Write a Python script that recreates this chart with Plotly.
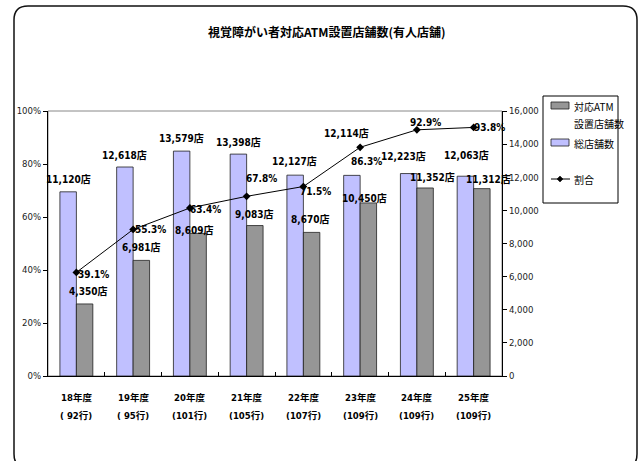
import plotly.graph_objects as go

# ---- data ----
years = ["18年度", "19年度", "20年度", "21年度", "22年度", "23年度", "24年度", "25年度"]
banks = ["( 92行)", "( 95行)", "(101行)", "(105行)", "(107行)", "(109行)", "(109行)", "(109行)"]
total_branches = [11120, 12618, 13579, 13398, 12127, 12114, 12223, 12063]
atm_branches = [4350, 6981, 8609, 9083, 8670, 10450, 11352, 11312]
ratio_pct = [39.1, 55.3, 63.4, 67.8, 71.5, 86.3, 92.9, 93.8]

# ---- layout constants (pixels) ----
W, H = 639, 461
L, R, T, B = 48, 502, 111, 376
PW, PH = R - L, B - T

def px(x):
    return (x - L) / PW

def py(y):
    return (B - y) / PH

LBL = "Liberation Sans Narrow, Arial Narrow, DejaVu Sans Condensed, Noto Sans CJK JP, sans-serif"
AX = "Liberation Sans Narrow, Arial Narrow, DejaVu Sans Condensed, sans-serif"

# label nudges (pixels) relative to the mark they describe
tot_dx = [0, 0, 0, 0, -1, -5, -5, 1]
tot_dy = [-12, -12, -13, -12, -14, -42, -17, -21]
atm_dx = [3, 0, -4, -1, -2, -4, 7, 7]
atm_dy = [-12, -13, -3, -11, -13, -4, -10, -9]
pct_dx = [17, 17, 16, 15, 12, 6, 9, 16]
pct_dy = [2, 0, 2, -18, 5, 14, -7, 0]

BLUE = "#C0C0FF"
GRAY = "#969696"
BW = 0.29
xs = list(range(len(years)))

fig = go.Figure()
fig.add_trace(go.Bar(
    x=xs, y=total_branches, name="総店舗数", width=BW, offset=-BW,
    marker=dict(color=BLUE, line=dict(color="#202020", width=0.8)),
    yaxis="y", showlegend=False,
))
fig.add_trace(go.Bar(
    x=xs, y=atm_branches, name="対応ATM設置店舗数", width=BW, offset=0,
    marker=dict(color=GRAY, line=dict(color="#202020", width=0.8)),
    yaxis="y", showlegend=False,
))
fig.add_trace(go.Scatter(
    x=xs, y=[v / 100 for v in ratio_pct], name="割合", mode="lines+markers",
    line=dict(color="black", width=1),
    marker=dict(symbol="diamond", size=6, color="black"),
    yaxis="y2", showlegend=False,
))

VAL_FONT = dict(family=LBL, size=10, color="black")
CAT_FONT = dict(family=LBL, size=9.5, color="black")

ann = []
for i in xs:
    ann.append(dict(x=i - BW / 2, y=total_branches[i], xref="x", yref="y",
                    text=f"<b>{total_branches[i]:,}店</b>", showarrow=False,
                    xshift=tot_dx[i], yshift=-tot_dy[i], font=VAL_FONT))
    ann.append(dict(x=i + BW / 2, y=atm_branches[i], xref="x", yref="y",
                    text=f"<b>{atm_branches[i]:,}店</b>", showarrow=False,
                    xshift=atm_dx[i], yshift=-atm_dy[i], font=VAL_FONT))
    ann.append(dict(x=i, y=ratio_pct[i] / 100, xref="x", yref="y2",
                    text=f"<b>{ratio_pct[i]:.1f}%</b>", showarrow=False,
                    xshift=pct_dx[i], yshift=-pct_dy[i], font=VAL_FONT))
    # category labels under the axis
    ann.append(dict(x=i, y=py(397), xref="x", yref="paper", text=f"<b>{years[i]}</b>",
                    showarrow=False, yanchor="middle", font=CAT_FONT))
    ann.append(dict(x=i, y=py(415), xref="x", yref="paper", text=f"<b>{banks[i]}</b>",
                    showarrow=False, yanchor="middle", font=CAT_FONT))

# title
ann.append(dict(x=px(327), y=py(31), xref="paper", yref="paper",
                text="<b>視覚障がい者対応ATM設置店舗数(有人店舗)</b>", showarrow=False,
                xanchor="center", yanchor="middle",
                font=dict(family="Noto Sans CJK JP, sans-serif", size=12, color="black")))

# legend (drawn by hand)
LEG_FONT = dict(family="Noto Sans CJK JP, sans-serif", size=10, color="black")
ann += [
    dict(x=px(572), y=py(106), xref="paper", yref="paper", text="対応ATM", showarrow=False,
         xanchor="left", yanchor="middle", font=LEG_FONT),
    dict(x=px(572), y=py(123), xref="paper", yref="paper", text="設置店舗数", showarrow=False,
         xanchor="left", yanchor="middle", font=LEG_FONT),
    dict(x=px(572), y=py(143), xref="paper", yref="paper", text="総店舗数", showarrow=False,
         xanchor="left", yanchor="middle", font=LEG_FONT),
    dict(x=px(572), y=py(179), xref="paper", yref="paper", text="割合", showarrow=False,
         xanchor="left", yanchor="middle", font=LEG_FONT),
]

def rounded_rect(x0, y0, x1, y1, r):
    X0, X1 = px(x0), px(x1)
    Y0, Y1 = py(y0), py(y1)
    rx, ry = r / PW, r / PH
    return (f"M {X0 + rx} {Y0} L {X1 - rx} {Y0} Q {X1} {Y0} {X1} {Y0 - ry} "
            f"L {X1} {Y1 + ry} Q {X1} {Y1} {X1 - rx} {Y1} "
            f"L {X0 + rx} {Y1} Q {X0} {Y1} {X0} {Y1 + ry} "
            f"L {X0} {Y0 - ry} Q {X0} {Y0} {X0 + rx} {Y0} Z")

shapes = [
    # outer chart frame
    dict(type="path", xref="paper", yref="paper", path=rounded_rect(14, 6, 637, 468, 14),
         line=dict(color="#111111", width=1.5), layer="above"),
    # plot area border
    dict(type="rect", xref="paper", yref="paper", x0=0, x1=1, y0=0, y1=1,
         line=dict(color="#888888", width=1), layer="below"),
    # legend box
    dict(type="rect", xref="paper", yref="paper", x0=px(543), x1=px(618), y0=py(203), y1=py(96),
         line=dict(color="black", width=1), fillcolor="white"),
    dict(type="rect", xref="paper", yref="paper", x0=px(551), x1=px(569), y0=py(109), y1=py(102),
         line=dict(color="#202020", width=0.8), fillcolor=GRAY),
    dict(type="rect", xref="paper", yref="paper", x0=px(551), x1=px(569), y0=py(146), y1=py(139),
         line=dict(color="#202020", width=0.8), fillcolor=BLUE),
    dict(type="line", xref="paper", yref="paper", x0=px(551), x1=px(570), y0=py(179), y1=py(179),
         line=dict(color="black", width=1)),
    dict(type="path", xref="paper", yref="paper",
         path=(f"M {px(560)} {py(176)} L {px(563)} {py(179)} L {px(560)} {py(182)} "
               f"L {px(557)} {py(179)} Z"),
         fillcolor="black", line=dict(color="black", width=0.5)),
]

fig.update_layout(
    width=W, height=H,
    margin=dict(l=L, r=W - R, t=T, b=H - B, pad=0),
    paper_bgcolor="white", plot_bgcolor="white",
    barmode="overlay",
    showlegend=False,
    xaxis=dict(
        range=[-0.5, 7.5], showticklabels=False, showgrid=False, zeroline=False,
        showline=True, linecolor="black", linewidth=1, ticks="",
        minor=dict(tickvals=[0.5, 1.5, 2.5, 3.5, 4.5, 5.5, 6.5], ticks="inside",
                   ticklen=4, tickcolor="black", tickwidth=1, showgrid=False),
    ),
    yaxis=dict(
        side="right", range=[0, 16000], tickvals=list(range(0, 16001, 2000)),
        ticktext=[f"{v:,}" for v in range(0, 16001, 2000)],
        showgrid=False, zeroline=False, showline=True, linecolor="black", linewidth=1,
        ticks="outside", ticklen=4, tickcolor="black",
        tickfont=dict(family=AX, size=9.5, color="#222222"),
    ),
    yaxis2=dict(
        side="left", overlaying="y", range=[0, 1],
        tickvals=[0, 0.2, 0.4, 0.6, 0.8, 1.0],
        ticktext=["0%", "20%", "40%", "60%", "80%", "100%"],
        showgrid=False, zeroline=False, showline=True, linecolor="black", linewidth=1,
        ticks="outside", ticklen=4, tickcolor="black",
        tickfont=dict(family=AX, size=9.5, color="#222222"),
    ),
    annotations=ann,
    shapes=shapes,
)

fig.write_html("out.html")
